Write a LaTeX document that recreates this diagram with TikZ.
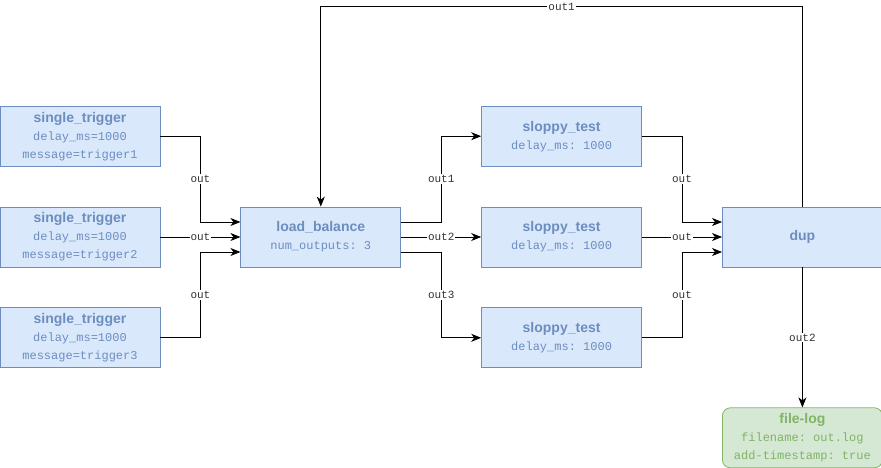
\documentclass[tikz,border=0pt]{standalone}
\usepackage{fontspec}
\setmainfont{Liberation Sans}
\setmonofont{Liberation Mono}
\usetikzlibrary{positioning,arrows.meta}

\definecolor{blkfill}{HTML}{DAE8FC}
\definecolor{blkdraw}{HTML}{6C8EBF}
\definecolor{logfill}{HTML}{D5E8D4}
\definecolor{logdraw}{HTML}{82B366}
\definecolor{lbltext}{HTML}{333333}

\newcommand{\ttl}[1]{{\fontsize{14}{18}\selectfont\bfseries #1}}

\begin{document}
\begin{tikzpicture}[node distance=40pt and 80pt,
	blk/.style={rectangle, draw=blkdraw, fill=blkfill, text=blkdraw, minimum width=160pt, minimum height=60pt, inner sep=0pt, align=center, font=\fontsize{12}{18}\selectfont, line width=0.8pt},
	logblk/.style={blk, rounded corners=8pt, draw=logdraw, fill=logfill, text=logdraw},
	wire/.style={-{Stealth[length=10pt,width=8pt,inset=3pt]}, line width=0.8pt},
	lbl/.style={fill=white, inner sep=1pt, font=\ttfamily\fontsize{11}{11}\selectfont, text=lbltext}]
	
	\useasboundingbox (0,0) rectangle (881pt,-468pt);
	
	% zdroje
	\node[blk] (st2) at (80pt,-237pt) {\ttl{single\_trigger}\\\texttt{delay\_ms=1000}\\\texttt{message=trigger2}};
	\node[blk,above=of st2] (st1) {\ttl{single\_trigger}\\\texttt{delay\_ms=1000}\\\texttt{message=trigger1}};
	\node[blk,below=of st2] (st3) {\ttl{single\_trigger}\\\texttt{delay\_ms=1000}\\\texttt{message=trigger3}};
	
	% rozdělení
	\node[blk,right=of st2] (lb) {\ttl{load\_balance}\\\texttt{num\_outputs: 3}};
	
	% testy
	\node[blk,right=of lb] (sl2) {\ttl{sloppy\_test}\\\texttt{delay\_ms: 1000}};
	\node[blk,above=of sl2] (sl1) {\ttl{sloppy\_test}\\\texttt{delay\_ms: 1000}};
	\node[blk,below=of sl2] (sl3) {\ttl{sloppy\_test}\\\texttt{delay\_ms: 1000}};
	
	% duplikace a log
	\node[blk,right=of sl2] (dup) {\ttl{dup}};
	\node[logblk,below=140pt of dup] (fl) {\ttl{file-log}\\\texttt{filename: out.log}\\\texttt{add-timestamp: true}};
	
	% šipky zdrojů
	\draw[wire] (st1.east) -| node[lbl,pos=0.75]{out} ([xshift=-40pt,yshift=15pt]lb.west) -- ([yshift=15pt]lb.west);
	\draw[wire] (st2) -- node[lbl]{out} (lb);
	\draw[wire] (st3.east) -| node[lbl,pos=0.75]{out} ([xshift=-40pt,yshift=-15pt]lb.west) -- ([yshift=-15pt]lb.west);
	
	% šipky rozdělení
	\draw[wire] ([yshift=15pt]lb.east) -| node[lbl,pos=0.75]{out1} ([xshift=-40pt]sl1.west) -- (sl1.west);
	\draw[wire] (lb) -- node[lbl]{out2} (sl2);
	\draw[wire] ([yshift=-15pt]lb.east) -| node[lbl,pos=0.75]{out3} ([xshift=-40pt]sl3.west) -- (sl3.west);
	
	% šipky testů
	\draw[wire] (sl1.east) -| node[lbl,pos=0.75]{out} ([xshift=-40pt,yshift=15pt]dup.west) -- ([yshift=15pt]dup.west);
	\draw[wire] (sl2) -- node[lbl]{out} (dup);
	\draw[wire] (sl3.east) -| node[lbl,pos=0.75]{out} ([xshift=-40pt,yshift=-15pt]dup.west) -- ([yshift=-15pt]dup.west);
	
	% zpětná smyčka a log
	\draw[wire] (dup.north) -- ++(0,200pt) -| node[lbl,pos=0.25]{out1} (lb.north);
	\draw[wire] (dup) -- node[lbl]{out2} (fl);
	
\end{tikzpicture}
\end{document}
